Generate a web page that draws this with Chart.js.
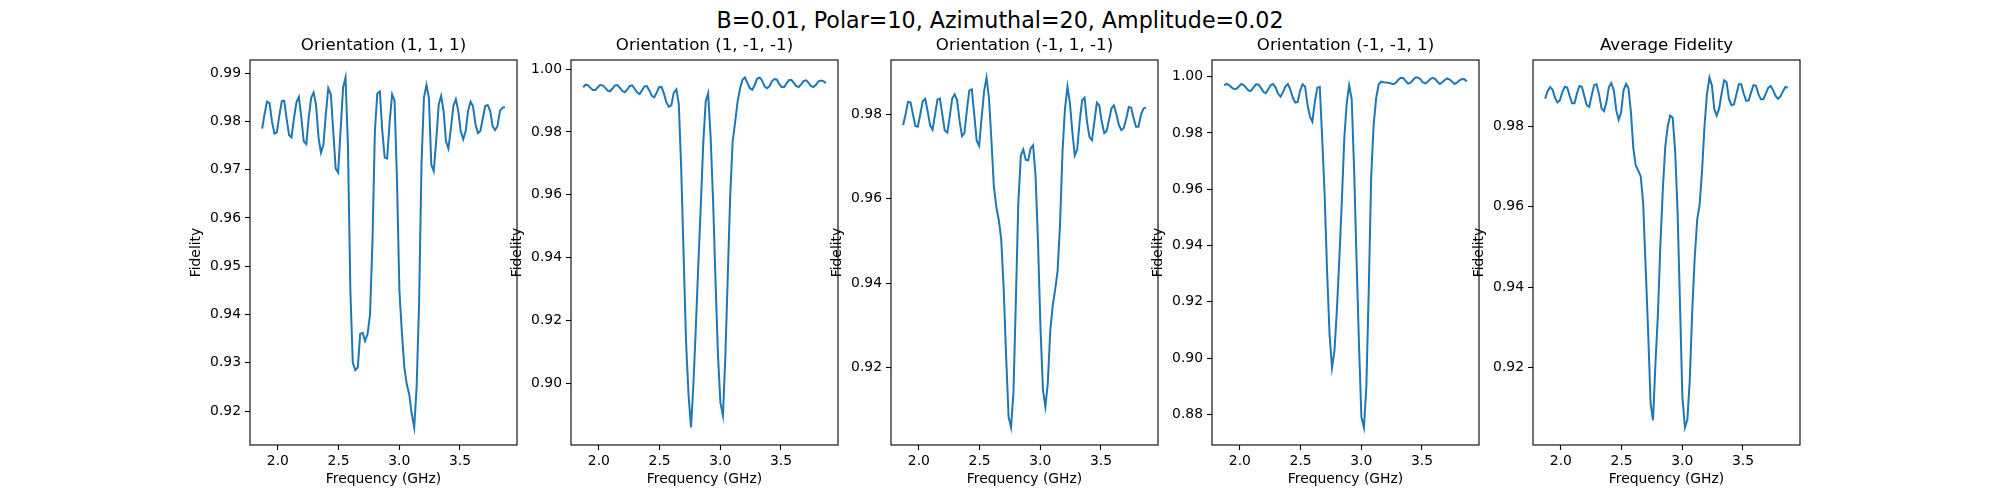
<!DOCTYPE html>
<html lang="en">
<head>
<meta charset="UTF-8">
<title>Fidelity vs Frequency</title>
<style>
  body { margin: 0; background: #fff; font-family: "DejaVu Sans", sans-serif; }
  #page { position: relative; width: 2000px; height: 500px; overflow: hidden; }
  #suptitle { position: absolute; left: 0; width: 2000px; top: 7px; text-align: center;
              font-size: 22.2px; line-height: 26px; color: #000; }
  .panel { position: absolute; top: 0; width: 447px; height: 500px; }
</style>
</head>
<body>
<div id="page">
  <div id="suptitle">B=0.01, Polar=10, Azimuthal=20, Amplitude=0.02</div>
  <div class="panel" style="left:160px"><canvas id="c0"></canvas></div>
  <div class="panel" style="left:481px"><canvas id="c1"></canvas></div>
  <div class="panel" style="left:801px"><canvas id="c2"></canvas></div>
  <div class="panel" style="left:1122px"><canvas id="c3"></canvas></div>
  <div class="panel" style="left:1443px"><canvas id="c4"></canvas></div>
</div>

<script src="https://cdn.jsdelivr.net/npm/chart.js"></script>
<script>
// frequency grid (GHz)
const frequency = [
  1.870, 1.890, 1.910, 1.931, 1.951, 1.971, 1.991, 2.011, 2.032, 2.052,
  2.072, 2.092, 2.112, 2.133, 2.153, 2.173, 2.193, 2.213, 2.234, 2.254,
  2.274, 2.294, 2.314, 2.335, 2.355, 2.375, 2.395, 2.415, 2.436, 2.456,
  2.476, 2.496, 2.516, 2.537, 2.557, 2.577, 2.597, 2.617, 2.638, 2.658,
  2.678, 2.698, 2.718, 2.739, 2.759, 2.779, 2.799, 2.819, 2.840, 2.860,
  2.880, 2.900, 2.921, 2.941, 2.961, 2.981, 3.001, 3.022, 3.042, 3.062,
  3.082, 3.102, 3.123, 3.143, 3.163, 3.183, 3.203, 3.224, 3.244, 3.264,
  3.284, 3.304, 3.325, 3.345, 3.365, 3.385, 3.405, 3.426, 3.446, 3.466,
  3.486, 3.506, 3.527, 3.547, 3.567, 3.587, 3.607, 3.628, 3.648, 3.668,
  3.688, 3.708, 3.729, 3.749, 3.769, 3.789, 3.809, 3.830, 3.850, 3.870
];

// fidelity, orientation (1, 1, 1)
const fid111 = [
  0.9785, 0.9815, 0.9841, 0.9838, 0.9800, 0.9775, 0.9777, 0.9811, 0.9842, 0.9843,
  0.9805, 0.9772, 0.9767, 0.9808, 0.9840, 0.9851, 0.9808, 0.9759, 0.9753, 0.9808,
  0.9849, 0.9860, 0.9835, 0.9766, 0.9735, 0.9752, 0.9815, 0.9869, 0.9856, 0.9780,
  0.9702, 0.9694, 0.9780, 0.9870, 0.9891, 0.9750, 0.9450, 0.9300, 0.9285, 0.9290,
  0.9360, 0.9362, 0.9345, 0.9360, 0.9400, 0.9550, 0.9780, 0.9858, 0.9862, 0.9780,
  0.9725, 0.9723, 0.9800, 0.9856, 0.9843, 0.9680, 0.9450, 0.9360, 0.9290, 0.9255,
  0.9235, 0.9195, 0.9166, 0.9250, 0.9420, 0.9710, 0.9849, 0.9876, 0.9849, 0.9710,
  0.9697, 0.9759, 0.9835, 0.9853, 0.9822, 0.9759, 0.9744, 0.9787, 0.9832, 0.9846,
  0.9822, 0.9780, 0.9763, 0.9780, 0.9822, 0.9841, 0.9832, 0.9794, 0.9776, 0.9780,
  0.9806, 0.9832, 0.9834, 0.9822, 0.9790, 0.9782, 0.9790, 0.9822, 0.9828, 0.9830
];

// fidelity, orientation (1, -1, -1)
const fid1mm = [
  0.9942, 0.9950, 0.9948, 0.9940, 0.9933, 0.9933, 0.9942, 0.9949, 0.9948, 0.9940,
  0.9931, 0.9929, 0.9938, 0.9948, 0.9949, 0.9940, 0.9930, 0.9926, 0.9935, 0.9946,
  0.9948, 0.9938, 0.9926, 0.9920, 0.9932, 0.9945, 0.9946, 0.9932, 0.9915, 0.9910,
  0.9925, 0.9942, 0.9943, 0.9920, 0.9893, 0.9880, 0.9885, 0.9925, 0.9935, 0.9890,
  0.9684, 0.9408, 0.9132, 0.8960, 0.8860, 0.9000, 0.9182, 0.9377, 0.9571, 0.9766,
  0.9897, 0.9923, 0.9780, 0.9578, 0.9323, 0.9089, 0.8940, 0.8898, 0.9089, 0.9344,
  0.9599, 0.9769, 0.9833, 0.9897, 0.9939, 0.9966, 0.9973, 0.9955, 0.9939, 0.9934,
  0.9950, 0.9969, 0.9973, 0.9963, 0.9945, 0.9939, 0.9945, 0.9961, 0.9968, 0.9966,
  0.9952, 0.9943, 0.9943, 0.9955, 0.9965, 0.9965, 0.9955, 0.9945, 0.9943, 0.9952,
  0.9962, 0.9964, 0.9955, 0.9945, 0.9943, 0.9950, 0.9961, 0.9963, 0.9961, 0.9955
];

// fidelity, orientation (-1, 1, -1)
const fidm1m = [
  0.9775, 0.9800, 0.9830, 0.9829, 0.9800, 0.9773, 0.9771, 0.9800, 0.9832, 0.9837,
  0.9808, 0.9775, 0.9764, 0.9800, 0.9836, 0.9838, 0.9800, 0.9762, 0.9757, 0.9795,
  0.9838, 0.9848, 0.9835, 0.9785, 0.9749, 0.9756, 0.9810, 0.9857, 0.9860, 0.9800,
  0.9738, 0.9726, 0.9790, 0.9855, 0.9888, 0.9840, 0.9742, 0.9632, 0.9580, 0.9550,
  0.9505, 0.9390, 0.9230, 0.9082, 0.9057, 0.9140, 0.9360, 0.9590, 0.9703, 0.9717,
  0.9693, 0.9691, 0.9720, 0.9727, 0.9655, 0.9500, 0.9300, 0.9146, 0.9106, 0.9162,
  0.9285, 0.9345, 0.9385, 0.9430, 0.9540, 0.9710, 0.9812, 0.9866, 0.9828, 0.9760,
  0.9703, 0.9717, 0.9785, 0.9834, 0.9840, 0.9783, 0.9747, 0.9739, 0.9783, 0.9828,
  0.9822, 0.9784, 0.9756, 0.9761, 0.9788, 0.9815, 0.9822, 0.9800, 0.9775, 0.9763,
  0.9768, 0.9790, 0.9818, 0.9816, 0.9791, 0.9771, 0.9771, 0.9800, 0.9814, 0.9817
];

// fidelity, orientation (-1, -1, 1)
const fidmm1 = [
  0.9970, 0.9974, 0.9970, 0.9962, 0.9956, 0.9957, 0.9965, 0.9974, 0.9970, 0.9960,
  0.9950, 0.9950, 0.9962, 0.9973, 0.9972, 0.9960, 0.9946, 0.9941, 0.9955, 0.9970,
  0.9974, 0.9962, 0.9940, 0.9929, 0.9945, 0.9965, 0.9974, 0.9955, 0.9925, 0.9908,
  0.9910, 0.9950, 0.9973, 0.9965, 0.9900, 0.9858, 0.9840, 0.9910, 0.9961, 0.9964,
  0.9780, 0.9580, 0.9310, 0.9080, 0.8965, 0.9025, 0.9170, 0.9350, 0.9560, 0.9780,
  0.9905, 0.9970, 0.9920, 0.9670, 0.9350, 0.9050, 0.8790, 0.8753, 0.8900, 0.9250,
  0.9650, 0.9830, 0.9925, 0.9972, 0.9982, 0.9980, 0.9979, 0.9978, 0.9976, 0.9973,
  0.9978, 0.9988, 0.9996, 0.9995, 0.9985, 0.9975, 0.9978, 0.9988, 0.9997, 0.9997,
  0.9992, 0.9980, 0.9976, 0.9982, 0.9991, 0.9996, 0.9992, 0.9982, 0.9974, 0.9980,
  0.9988, 0.9994, 0.9990, 0.9982, 0.9974, 0.9979, 0.9987, 0.9992, 0.9991, 0.9983
];

// average fidelity
const fidAvg = [
  0.9869, 0.9888, 0.9898, 0.9892, 0.9872, 0.9860, 0.9865, 0.9885, 0.9899, 0.9897,
  0.9876, 0.9858, 0.9858, 0.9883, 0.9901, 0.9899, 0.9875, 0.9853, 0.9849, 0.9878,
  0.9903, 0.9905, 0.9880, 0.9845, 0.9838, 0.9860, 0.9898, 0.9908, 0.9890, 0.9840,
  0.9817, 0.9835, 0.9890, 0.9906, 0.9895, 0.9835, 0.9745, 0.9702, 0.9690, 0.9675,
  0.9608, 0.9450, 0.9295, 0.9110, 0.9068, 0.9210, 0.9330, 0.9500, 0.9645, 0.9750,
  0.9800, 0.9827, 0.9822, 0.9740, 0.9590, 0.9360, 0.9125, 0.9050, 0.9070, 0.9170,
  0.9340, 0.9470, 0.9568, 0.9605, 0.9690, 0.9800, 0.9880, 0.9922, 0.9902, 0.9843,
  0.9827, 0.9845, 0.9884, 0.9915, 0.9910, 0.9868, 0.9853, 0.9855, 0.9880, 0.9905,
  0.9905, 0.9882, 0.9864, 0.9865, 0.9885, 0.9903, 0.9902, 0.9880, 0.9868, 0.9868,
  0.9882, 0.9896, 0.9901, 0.9890, 0.9876, 0.9869, 0.9875, 0.9888, 0.9899, 0.9896
];

const titles = ['Orientation (1, 1, 1)', 'Orientation (1, -1, -1)', 'Orientation (-1, 1, -1)',
                'Orientation (-1, -1, 1)', 'Average Fidelity'];
const series = [fid111, fid1mm, fidm1m, fidmm1, fidAvg];

// tick labels
const xTicks = [2.0, 2.5, 3.0, 3.5];
const yTicks = [
  [0.92, 0.93, 0.94, 0.95, 0.96, 0.97, 0.98, 0.99],
  [0.90, 0.92, 0.94, 0.96, 0.98, 1.00],
  [0.92, 0.94, 0.96, 0.98],
  [0.88, 0.90, 0.92, 0.94, 0.96, 0.98, 1.00],
  [0.92, 0.94, 0.96, 0.98]
];

// box around the axes, like matplotlib spines
const frame = {
  id: 'frame',
  afterDraw(chart) {
    const { ctx, chartArea: a } = chart;
    ctx.save();
    ctx.strokeStyle = '#000';
    ctx.lineWidth = 1.1;
    ctx.strokeRect(a.left, a.top, a.right - a.left, a.bottom - a.top);
    ctx.restore();
  }
};

Chart.defaults.font.family = '"DejaVu Sans", sans-serif';
Chart.defaults.color = '#000';

series.forEach((vals, k) => {
  // matplotlib-like 5% margins around the data
  const lo = Math.min(...vals), hi = Math.max(...vals);
  const pad = (hi - lo) * 0.05;

  new Chart(document.getElementById('c' + k), {
    type: 'line',
    data: {
      datasets: [{
        data: frequency.map((f, i) => ({ x: f, y: vals[i] })),
        borderColor: '#1f77b4',
        borderWidth: 2,
        pointRadius: 0,
        tension: 0,
        fill: false
      }]
    },
    options: {
      responsive: true,
      maintainAspectRatio: false,
      animation: false,
      layout: { padding: { left: 0, right: 90, top: 36, bottom: 0 } },
      plugins: {
        legend: { display: false },
        tooltip: { enabled: false },
        title: {
          display: true,
          fullSize: false,
          text: titles[k],
          font: { size: 16.67, weight: 'normal' },
          padding: { top: 0, bottom: 4 }
        }
      },
      scales: {
        x: {
          type: 'linear',
          min: 1.77,
          max: 3.97,
          afterBuildTicks: axis => { axis.ticks = xTicks.map(v => ({ value: v })); },
          afterFit: scale => { scale.height = 55; },
          ticks: { font: { size: 13.9 }, padding: 3, autoSkip: false, maxRotation: 0,
                   callback: v => v.toFixed(1) },
          grid: { drawOnChartArea: false, tickLength: 5, tickColor: '#000', tickWidth: 1.1 },
          border: { display: false },
          title: { display: true, text: 'Frequency (GHz)', font: { size: 13.9 },
                   padding: { top: 0, bottom: 12 } }
        },
        y: {
          min: lo - pad,
          max: hi + pad,
          afterBuildTicks: axis => { axis.ticks = yTicks[k].map(v => ({ value: v })); },
          afterFit: scale => { scale.width = 90; },
          ticks: { font: { size: 13.9 }, padding: 4, autoSkip: false,
                   callback: v => v.toFixed(2) },
          grid: { drawOnChartArea: false, tickLength: 5, tickColor: '#000', tickWidth: 1.1 },
          border: { display: false },
          title: { display: true, text: 'Fidelity', font: { size: 13.9 },
                   padding: { top: 28, bottom: 0 } }
        }
      }
    },
    plugins: [frame]
  });
});
</script>
</body>
</html>
